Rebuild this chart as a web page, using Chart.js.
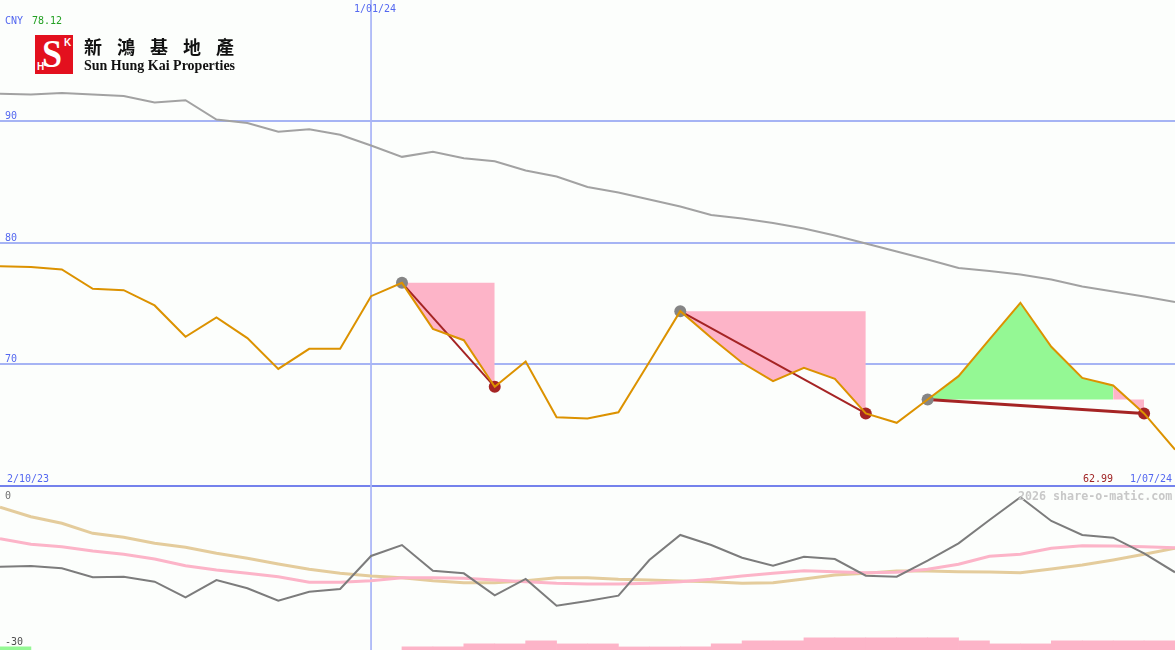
<!DOCTYPE html>
<html>
<head>
<meta charset="utf-8">
<script src="https://cdn.jsdelivr.net/npm/chart.js@4.4.1/dist/chart.umd.min.js"></script>
<style>
html,body{margin:0;padding:0;background:#fcfefc;}
#wrap{position:relative;width:1175px;height:650px;overflow:hidden;background:#fcfefc;}
#c{position:absolute;left:0;top:0;}
.t{position:absolute;font-family:"DejaVu Sans Mono",monospace;font-size:10px;line-height:12px;white-space:nowrap;}
.blue{color:#5468f0;}
#logo{position:absolute;left:35px;top:35px;width:38px;height:39px;background:#e3101e;overflow:hidden;}
#logo span{position:absolute;color:#fff;font-weight:bold;white-space:nowrap;}
</style>
</head>
<body>
<div id="wrap">
<canvas id="c" width="1175" height="650"></canvas>
<div class="t blue" style="left:5px;top:15px;">CNY</div>
<div class="t" style="left:32px;top:15px;color:#22a022;">78.12</div>
<div class="t blue" style="left:354px;top:3px;">1/01/24</div>
<div class="t blue" style="left:7px;top:473px;">2/10/23</div>
<div class="t" style="left:1083px;top:473px;color:#a02424;">62.99</div>
<div class="t blue" style="left:1130px;top:473px;">1/07/24</div>
<div class="t" style="left:5px;top:490px;color:#707070;">0</div>
<div class="t" style="left:5px;top:636px;color:#505050;">-30</div>
<div class="t" style="left:1018px;top:489px;font-size:11.66px;line-height:14px;font-weight:bold;color:#c8c8c8;">2026 share-o-matic.com</div>
<div id="logo">
  <span style="left:7px;top:-1px;font:bold 40px/40px 'Liberation Serif',serif;transform:scaleX(0.9);transform-origin:left top;">S</span>
  <span style="left:29px;top:3px;font:bold 10px/10px 'Liberation Sans',sans-serif;">K</span>
  <span style="left:2px;top:27px;font:bold 10px/10px 'Liberation Sans',sans-serif;">H</span>
</div>
<div style="position:absolute;left:84px;top:37px;font:bold 18px 'Noto Sans CJK TC',sans-serif;line-height:18px;letter-spacing:15px;color:#111;white-space:nowrap;">新鴻基地產</div>
<div style="position:absolute;left:84px;top:59px;font:bold 14px 'Liberation Serif',serif;line-height:14px;color:#111;white-space:nowrap;">Sun Hung Kai Properties</div>
</div>
<script>
// ---- data (weekly points, index 0 .. 38) ----
const price = [78.09, 78.02, 77.82, 76.23, 76.12, 74.86, 72.28, 73.87, 72.17, 69.64,
  71.29, 71.29, 75.62, 76.72, 72.93, 72.0, 68.16, 70.25, 65.66, 65.56,
  66.07, 70.2, 74.39, 72.2, 70.14, 68.63, 69.73, 68.82, 65.97, 65.2,
  67.12, 69.04, 72.06, 75.08, 71.46, 68.9, 68.27, 65.97, 62.99];
const avgLine = [92.28, 92.22, 92.35, 92.22, 92.1, 91.56, 91.75, 90.16, 89.88, 89.15,
  89.37, 88.91, 88.02, 87.09, 87.51, 86.98, 86.73, 85.97, 85.47, 84.61,
  84.16, 83.58, 83.0, 82.3, 82.02, 81.65, 81.19, 80.62, 79.96, 79.3,
  78.64, 77.94, 77.7, 77.41, 77.0, 76.42, 76.0, 75.6, 75.14];
const oscFast = [-14.57, -14.44, -14.87, -16.54, -16.43, -17.35, -20.24, -17.04, -18.57, -20.87,
  -19.2, -18.7, -12.59, -10.56, -15.31, -15.8, -19.87, -16.85, -21.8, -20.93,
  -19.94, -13.33, -8.7, -10.56, -12.91, -14.39, -12.72, -13.15, -16.24, -16.43,
  -13.46, -10.24, -5.93, -1.72, -6.11, -8.7, -9.2, -12.09, -15.61];
const oscMid = [-9.39, -10.43, -10.87, -11.67, -12.28, -13.15, -14.39, -15.19, -15.8, -16.43,
  -17.46, -17.46, -17.17, -16.61, -16.61, -16.72, -17.04, -17.35, -17.65, -17.78,
  -17.78, -17.65, -17.35, -16.91, -16.3, -15.8, -15.31, -15.5, -15.69, -15.61,
  -15.06, -14.13, -12.65, -12.28, -11.17, -10.68, -10.74, -10.87, -11.06];
const oscSlow = [-3.57, -5.31, -6.54, -8.39, -9.13, -10.24, -10.98, -12.09, -13.02, -14.07,
  -15.06, -15.8, -16.3, -16.61, -17.17, -17.54, -17.54, -17.17, -16.61, -16.61,
  -16.91, -17.04, -17.22, -17.35, -17.65, -17.54, -16.85, -16.11, -15.8, -15.37,
  -15.37, -15.5, -15.56, -15.69, -14.99, -14.26, -13.33, -12.28, -11.17];
// weekly count bars (index 0..37, each spans one week)
const barsUp =   [1,0,0,0,0,0,0,0,0,0, 0,0,0,0,0,0,0,0,0,0, 0,0,0,0,0,0,0,0,0,0, 0,0,0,0,0,0,0,0];
const barsDown = [0,0,0,0,0,0,0,0,0,0, 0,0,0,1,1,2,2,3,2,2, 1,1,1,2,3,3,4,4,4,4, 4,3,2,2,3,3,3,3];
// swings: peak index -> trough index
const swingStart = [13, 22, 30];
const swingEnd   = [16, 28, 37];
// shaded segments: [from, to, swing number, kind]
const shadeSegs = [[13, 16, 0, 'down'], [22, 28, 1, 'down'], [30, 36, 2, 'up'], [36, 37, 2, 'down']];
const mainTicks = [60, 70, 80, 90];
const dateLineIndex = 12;

// ---- styles ----
const C = {
  price: '#dc9200', avg: '#a2a2a2', fast: '#7c7c7c', mid: '#fcb4c8', slow: '#e4cc9c',
  down: '#fdb4c8', up: '#94f894', trend: '#a52424', peak: '#858585',
  grid: '#a6b4f4', sep: '#7482ec', tick: '#5468f0', vline: '#aab6f6'
};

const pts = arr => arr.map((v, i) => ({x: i, y: v}));
const datasets = [];

datasets.push({type: 'line', data: pts(price), borderColor: C.price, borderWidth: 2,
  pointRadius: 0, tension: 0, yAxisID: 'y', order: 0});
datasets.push({type: 'line', data: swingStart.map(i => ({x: i, y: price[i]})), showLine: false,
  pointRadius: 6, pointBackgroundColor: C.peak, pointBorderWidth: 0, borderColor: 'transparent', yAxisID: 'y', order: 1});
datasets.push({type: 'line', data: swingEnd.map(i => ({x: i, y: price[i]})), showLine: false,
  pointRadius: 6, pointBackgroundColor: C.trend, pointBorderWidth: 0, borderColor: 'transparent', yAxisID: 'y', order: 1});
swingStart.forEach((s, k) => {
  const e = swingEnd[k];
  datasets.push({type: 'line', data: [{x: s, y: price[s]}, {x: e, y: price[e]}], borderColor: C.trend,
    borderWidth: k === 2 ? 3 : 2, pointRadius: 0, tension: 0, yAxisID: 'y', order: 2});
});
shadeSegs.forEach(([from, to, sw, kind]) => {
  const col = kind === 'up' ? C.up : C.down;
  const lvl = price[swingStart[sw]];
  datasets.push({type: 'line', data: price.slice(from, to + 1).map((v, k) => ({x: from + k, y: v})),
    borderColor: 'transparent', borderWidth: 0, pointRadius: 0, tension: 0,
    fill: {target: {value: lvl}, above: col, below: col}, yAxisID: 'y', order: 3});
});
datasets.push({type: 'line', data: pts(avgLine), borderColor: C.avg, borderWidth: 2,
  pointRadius: 0, tension: 0, yAxisID: 'y', order: 3});
datasets.push({type: 'line', data: pts(oscFast), borderColor: C.fast, borderWidth: 2,
  pointRadius: 0, tension: 0, yAxisID: 'y2', order: 5});
datasets.push({type: 'line', data: pts(oscMid), borderColor: C.mid, borderWidth: 3,
  pointRadius: 0, tension: 0, yAxisID: 'y2', order: 6});
datasets.push({type: 'line', data: pts(oscSlow), borderColor: C.slow, borderWidth: 3,
  pointRadius: 0, tension: 0, yAxisID: 'y2', order: 7});
datasets.push({type: 'bar', data: barsUp.map((v, i) => ({x: i + 0.5, y: v > 0 ? v : null})), backgroundColor: C.up,
  borderWidth: 0, grouped: false, barPercentage: 1, categoryPercentage: 1, yAxisID: 'y3', order: 8});
datasets.push({type: 'bar', data: barsDown.map((v, i) => ({x: i + 0.5, y: v > 0 ? v : null})), backgroundColor: C.down,
  borderWidth: 0, grouped: false, barPercentage: 1, categoryPercentage: 1, yAxisID: 'y3', order: 8});
// date marker line (1/01/24) spanning full height
datasets.push({type: 'line', data: [{x: dateLineIndex, y: 100}, {x: dateLineIndex, y: 46.5}],
  borderColor: C.vline, borderWidth: 1, pointRadius: 0, yAxisID: 'y', order: 20});

const zeroFit = s => { s.paddingTop = 0; s.paddingBottom = 0; s.paddingLeft = 0; s.paddingRight = 0;
  if (s.isHorizontal()) s.height = 0; else s.width = 0; };

new Chart(document.getElementById('c'), {
  type: 'line',
  data: {datasets},
  options: {
    responsive: false, animation: false, events: [],
    layout: {padding: 0, autoPadding: false},
    plugins: {legend: {display: false}, tooltip: {enabled: false}},
    scales: {
      x: {type: 'linear', min: 0, max: price.length - 1, offset: false,
        grid: {display: false, drawTicks: false}, afterFit: zeroFit,
        border: {display: false}, ticks: {display: false}},
      y: {type: 'linear', position: 'left', min: 46.5, max: 100,
        afterBuildTicks: s => { s.ticks = mainTicks.map(v => ({value: v})); },
        afterFit: zeroFit,
        grid: {color: c => c.tick && c.tick.value === 60 ? C.sep : C.grid, lineWidth: 2, drawTicks: false},
        border: {display: false},
        ticks: {mirror: true, padding: 5, labelOffset: -5, color: C.tick,
          font: {family: 'DejaVu Sans Mono', size: 10},
          callback: v => v === 60 ? '' : String(v)}},
      y2: {type: 'linear', display: false, min: -30, max: 90.37},
      y3: {type: 'linear', display: false, min: 0, max: 213}
    }
  }
});
</script>
</body>
</html>
